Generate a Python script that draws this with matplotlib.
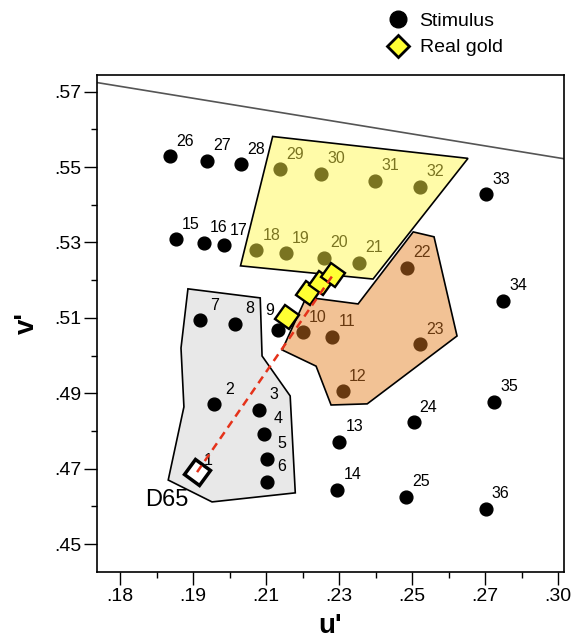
'''u'v' chromaticity plot of stimuli, real gold samples and D65'''
import matplotlib
matplotlib.use('Agg')
import matplotlib.pyplot as plt
from matplotlib.lines import Line2D
from matplotlib.markers import MarkerStyle
from matplotlib.patches import Polygon
from matplotlib.transforms import Affine2D

plt.rcParams['font.family'] = ['Liberation Sans', 'DejaVu Sans']

# stimulus numbers and their u', v' coordinates
stim_id = list(range(1, 37))
stim_u = [.1911, .1958, .2081, .2093, .2102, .2102, .1919, .2015, .2134, .2201,
          .2280, .2310, .2301, .2295, .1853, .1929, .1984, .2073, .2154, .2260,
          .2354, .2486, .2522, .2504, .2483, .1837, .1938, .2032, .2138, .2250,
          .2398, .2522, .2703, .2749, .2725, .2701]
stim_v = [.4691, .4871, .4856, .4793, .4726, .4666, .5094, .5084, .5068, .5062,
          .5050, .4906, .4771, .4644, .5309, .5299, .5292, .5280, .5271, .5260,
          .5246, .5233, .5030, .4823, .4626, .5529, .5517, .5507, .5494, .5482,
          .5464, .5448, .5428, .5146, .4877, .4594]

yellow_ids = [18, 19, 20, 21, 29, 30, 31, 32]
orange_ids = [10, 11, 12, 22, 23]

# real gold samples
gold_u = [.2156, .2215, .2251, .2284]
gold_v = [.5102, .5166, .5193, .5215]

# white point
d65_u = .1911
d65_v = .4691

# region outlines
gray_u = [.1886, .2084, .2089, .2166, .2180, .1952, .1832, .1875, .1867]
gray_v = [.5177, .5153, .4999, .4893, .4636, .4612, .4670, .4864, .5020]
yellow_u = [.2118, .2653, .2393, .2030]
yellow_v = [.5581, .5523, .5203, .5238]
orange_u = [.2210, .2352, .2503, .2560, .2623, .2377, .2278, .2237, .2144]
orange_v = [.5155, .5137, .5328, .5315, .5052, .4872, .4869, .4972, .5015]

# locus line across the top
locus_u = [.1637, .2916]
locus_v = [.5724, .5522]

xticks = [.17, .19, .21, .23, .25, .27, .29]
xticklabels = ['.18', '.19', '.21', '.23', '.25', '.27', '.30']
yticks = [.45, .47, .49, .51, .53, .55, .57]
yticklabels = ['.45', '.47', '.49', '.51', '.53', '.55', '.57']

OLIVE = '#7a7421'
BROWN = '#683910'

fig = plt.figure(figsize=(5.82, 6.44), dpi=100)
ax = fig.add_axes([0.1667, 0.1123, 0.8024, 0.7712])

for us, vs, fc in [(gray_u, gray_v, '#e8e8e8'), (yellow_u, yellow_v, '#fffba8'),
                   (orange_u, orange_v, '#f2c295')]:
    ax.add_patch(Polygon(list(zip(us, vs)), closed=True, facecolor=fc,
                         edgecolor='black', lw=1.2, zorder=1))

ax.plot(locus_u, locus_v, color='#555555', lw=1.2, zorder=1)

for i, u, v in zip(stim_id, stim_u, stim_v):
    if i in yellow_ids:
        c = OLIVE
    elif i in orange_ids:
        c = BROWN
    else:
        c = 'black'
    ax.plot(u, v, 'o', ms=9.2, color=c, zorder=3)
    off = (10.8, 10.8)
    if i == 9:
        off = (-6.5, 13.7)
    elif i == 1:
        off = (8, 8.6)
    ax.annotate(str(i), (u, v), xytext=off, textcoords='offset points',
                ha='center', va='center', fontsize=11.5, color=c, zorder=4)

sq = MarkerStyle('s', transform=Affine2D().rotate_deg(55))
ax.plot(gold_u, gold_v, ls='none', marker=sq, ms=12, mfc='#ffff33',
        mec='black', mew=1.7, zorder=5)
ax.plot(d65_u, d65_v, ls='none', marker=sq, ms=13.5, mfc='white',
        mec='black', mew=2.5, zorder=5)
ax.plot([d65_u, gold_u[-1]], [d65_v, gold_v[-1]], ls=(0, (3.2, 2.2)),
        color='#e5321a', lw=1.8, zorder=6)
ax.annotate('D65', (d65_u, d65_v), xytext=(-21.6, -20.2),
            textcoords='offset points', ha='center', va='center', fontsize=17)

ax.set_xlim(.1637, .2916)
ax.set_ylim(.4427, .5744)
ax.set_xticks(xticks)
ax.set_xticklabels(xticklabels)
ax.set_yticks(yticks)
ax.set_yticklabels(yticklabels)
ax.set_xticks([.18, .20, .22, .24, .26, .28], minor=True)
ax.set_yticks([.46, .48, .50, .52, .54, .56], minor=True)
ax.tick_params(which='major', length=9.5, width=1, labelsize=14, pad=2)
ax.tick_params(which='minor', length=4.5, width=1)
for s in ax.spines.values():
    s.set_linewidth(1.2)
ax.set_xlabel("u'", fontsize=20, fontweight='bold', labelpad=6)
ax.set_ylabel("v'", fontsize=20, fontweight='bold', labelpad=10)

handles = [Line2D([], [], ls='none', marker='o', ms=12, color='black'),
           Line2D([], [], ls='none', marker='D', ms=11.5, mfc='#ffff33',
                  mec='black', mew=2)]
ax.legend(handles, ['Stimulus', 'Real gold'], loc='upper left',
          bbox_to_anchor=(0.624, 1.126), frameon=False, fontsize=14,
          handlelength=1, handletextpad=0.6, labelspacing=0.45,
          borderpad=0, borderaxespad=0)

fig.savefig('out.png', dpi=100)
